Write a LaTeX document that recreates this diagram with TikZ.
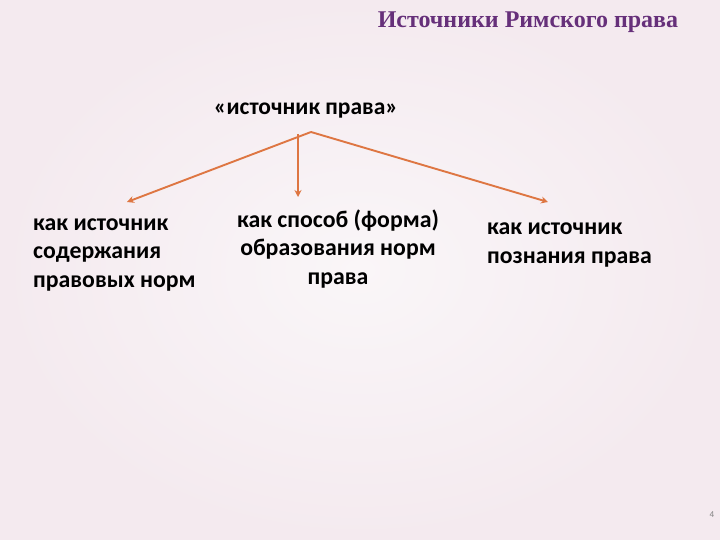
\documentclass[tikz,border=0pt]{standalone}
\usepackage{fontspec}
\setmainfont{Carlito}
\newfontfamily\titlefont{Liberation Serif}
\usetikzlibrary{arrows.meta}
\definecolor{bgpink}{RGB}{244,234,239}
\definecolor{bglight}{RGB}{250,246,248}
\definecolor{titlepurple}{RGB}{102,48,122}
\definecolor{arroworange}{RGB}{222,118,66}
\tikzset{
  body/.style={font=\bfseries\fontsize{23.8}{28.5}\selectfont, text=black, inner sep=0pt, align=left},
  link/.style={draw=arroworange, line width=1.9pt, -{Stealth[length=7pt,width=7pt]}}
}
\begin{document}
\begin{tikzpicture}[x=1pt,y=-1pt]
\useasboundingbox (0,0) rectangle (720,540);
\shade[inner color=bglight, outer color=bgpink] (0,0) rectangle (720,540);
\node[font=\titlefont\bfseries\fontsize{24}{28}\selectfont, text=titlepurple, inner sep=0pt, anchor=base] (title) at (528,28) {Источники Римского права};
\node[font=\bfseries\fontsize{23.5}{28}\selectfont, inner sep=0pt, anchor=base] (src) at (306,115) {«источник права»};
\coordinate (apex) at (311,132);
\coordinate (vtop) at (298,134);
\node[body, anchor=base west] (left) at (33,287) {как источник\\содержания\\правовых норм};
\node[body, anchor=base, align=center] (mid) at (338,284) {как способ (форма)\\образования норм\\права};
\node[body, anchor=base west] (right) at (487,263) {как источник\\познания права};
\coordinate (ltip) at (127,202);
\coordinate (mtip) at (298,197);
\coordinate (rtip) at (548,202);
\draw[link] (apex) -- (ltip);
\draw[link] (vtop) -- (mtip);
\draw[link] (apex) -- (rtip);
\node[font=\fontsize{9}{10}\selectfont, text=gray, inner sep=0pt] (num) at (712,515) {4};
\end{tikzpicture}
\end{document}
